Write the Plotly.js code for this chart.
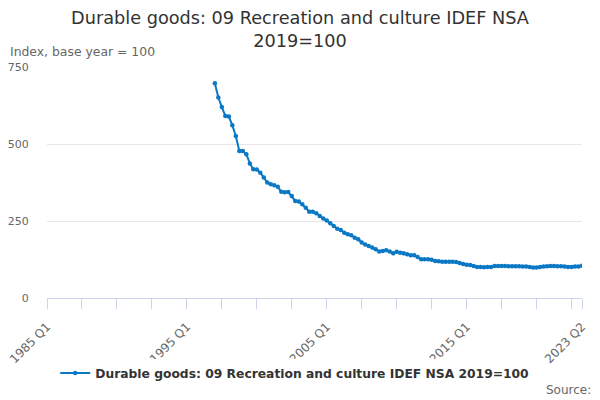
<!DOCTYPE html>
<html>
<head>
<meta charset="utf-8">
<script src="https://cdn.plot.ly/plotly-3.0.1.min.js"></script>
<style>
  html, body { margin: 0; padding: 0; background: #fff; }
  #chart { width: 600px; height: 400px; }
</style>
</head>
<body>
<div id="chart"></div>
<script>
/* ── Durable goods: 09 Recreation and culture, quarterly index ── */

const SERIES_NAME = 'Durable goods: 09 Recreation and culture IDEF NSA 2019=100';
const LINE_COLOR = '#0b78c5';

// Quarter labels on the axis: 1985 Q1 .. 2023 Q2
const FIRST_YEAR = 1985, LAST_YEAR = 2023, LAST_Q = 2;
const QUARTERS = [];
for (let y = FIRST_YEAR; y <= LAST_YEAR; y++) {
    for (let q = 1; q <= 4; q++) {
        if (y === LAST_YEAR && q > LAST_Q) break;
        QUARTERS.push(`${y} Q${q}`);
    }
}

// Series starts in 1997 Q1
const START_LABEL = '1997 Q1';
const VALUES = [
    697, 651, 620, 591, 589, 561, 526, 477, 477, 467, 437, 418, 417, 407, 391, 375, 369, 366, 361, 345, 343,
    344, 331, 315, 313, 304, 293, 280, 280, 275, 266, 258, 252, 243, 234, 225, 221, 212, 207, 204, 196, 191,
    180, 174, 169, 164, 158, 151, 153, 155, 151, 145, 150, 147, 145, 142, 139, 139, 133, 126, 126, 126, 124, 120,
    119, 118, 118, 118, 118, 117, 114, 110, 108, 107, 104, 101, 101, 100, 101, 101, 104, 104, 104, 104, 103,
    103, 103, 103, 102, 102, 101, 99, 99, 101, 102, 103, 104, 104, 103, 103, 102, 101, 101, 102, 102, 105,
];
const startIdx = QUARTERS.indexOf(START_LABEL);
const X_VALUES = QUARTERS.slice(startIdx, startIdx + VALUES.length);

// Tick marks every 10 quarters plus the last one; labels every 40
const TICK_STEP = 10, LABEL_STEP = 40;
const tickIdx = [];
for (let i = 0; i < QUARTERS.length; i += TICK_STEP) tickIdx.push(i);
tickIdx.push(QUARTERS.length - 1);
const TICK_VALS = tickIdx.map(i => QUARTERS[i]);
const TICK_TEXT = tickIdx.map(i => (i % LABEL_STEP === 0 || i === QUARTERS.length - 1) ? QUARTERS[i] : '');

const Y_TICKS = [0, 250, 500, 750];

const FONT = 'DejaVu Sans, sans-serif';
const MUTED = '#666666';

const trace = {
    x: X_VALUES,
    y: VALUES,
    type: 'scatter',
    mode: 'lines+markers',
    name: SERIES_NAME,
    line: { color: LINE_COLOR, width: 2 },
    marker: { color: LINE_COLOR, size: 4.5 },
    hovertemplate: '%{x}: %{y}<extra></extra>',
};

const layout = {
    width: 600,
    height: 400,
    margin: { l: 47, r: 18, t: 67, b: 102 },
    paper_bgcolor: '#ffffff',
    plot_bgcolor: '#ffffff',
    font: { family: FONT, color: MUTED },
    title: {
        text: 'Durable goods: 09 Recreation and culture IDEF NSA<br>2019=100',
        font: { family: FONT, size: 17.7, color: '#333333' },
        x: 0.5, xanchor: 'center',
        y: 0.94, yanchor: 'top', yref: 'container',
    },
    xaxis: {
        type: 'category',
        categoryorder: 'array',
        categoryarray: QUARTERS,
        range: [0, QUARTERS.length - 1],
        tickmode: 'array',
        tickvals: TICK_VALS,
        ticktext: TICK_TEXT,
        tickangle: -45,
        ticks: 'outside',
        ticklen: 10,
        tickcolor: '#ccd6eb',
        ticklabelstandoff: 6,
        tickfont: { size: 12, color: MUTED },
        showline: true,
        linecolor: '#ccd6eb',
        showgrid: false,
        zeroline: false,
        fixedrange: true,
    },
    yaxis: {
        range: [0, 750],
        tickmode: 'array',
        tickvals: Y_TICKS,
        ticks: 'outside',
        ticklen: 15,
        tickcolor: 'rgba(0,0,0,0)',
        tickfont: { size: 11, color: MUTED },
        gridcolor: '#e6e6e6',
        zeroline: false,
        showline: false,
        fixedrange: true,
    },
    showlegend: true,
    legend: {
        orientation: 'h',
        x: 0.463, xanchor: 'center',
        y: -0.325, yanchor: 'middle',
        font: { family: FONT, size: 12.3, color: '#333333', weight: 'bold' },
        itemwidth: 30,
    },
    annotations: [
        {
            text: 'Index, base year = 100',
            xref: 'paper', yref: 'paper',
            x: -0.073, y: 1.065, xanchor: 'left', yanchor: 'middle',
            showarrow: false,
            font: { family: FONT, size: 12.4, color: MUTED },
        },
        {
            text: 'Source:',
            xref: 'paper', yref: 'paper',
            x: 1.02, y: -0.398, xanchor: 'right', yanchor: 'middle',
            showarrow: false,
            font: { family: FONT, size: 12, color: MUTED },
        },
    ],
};

Plotly.newPlot('chart', [trace], layout, { displayModeBar: false, staticPlot: false });
</script>
</body>
</html>
